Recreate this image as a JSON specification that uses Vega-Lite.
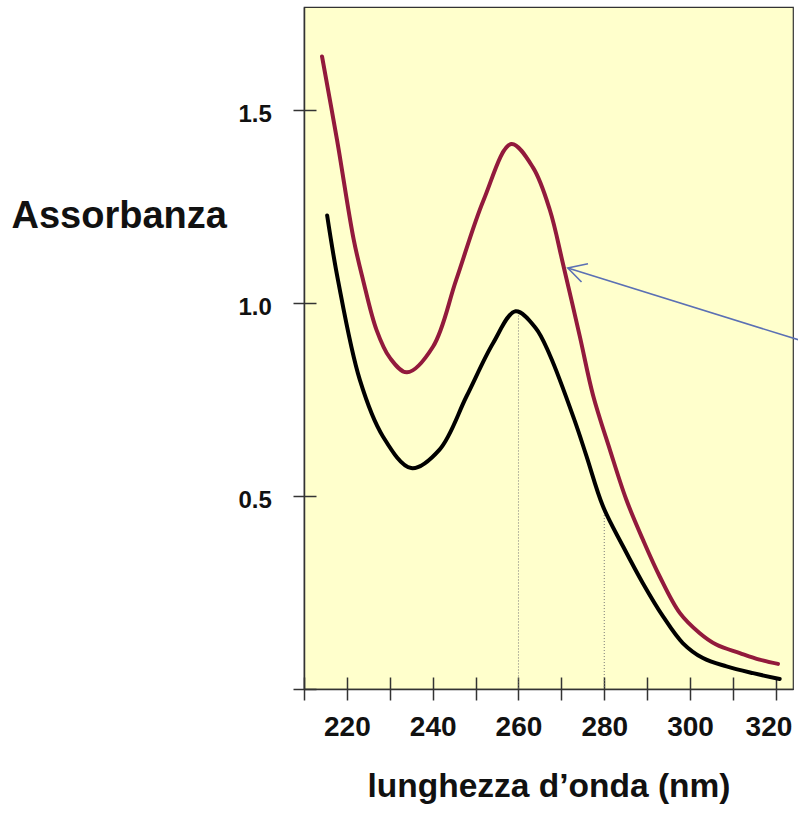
{
  "$schema": "https://vega.github.io/schema/vega-lite/v6.json",
  "width": 489,
  "height": 682,
  "autosize": {"type": "none"},
  "padding": {"left": 304, "top": 7, "right": 5, "bottom": 124},
  "background": "white",
  "config": {
    "view": {"fill": "#FFFFCC", "stroke": "#333333", "strokeWidth": 1.2},
    "axis": {
      "grid": false,
      "domainColor": "#333333",
      "tickColor": "#333333",
      "domainWidth": 1.5,
      "tickWidth": 1.5,
      "labelFont": "Liberation Sans",
      "titleFont": "Liberation Sans",
      "labelFontWeight": "bold",
      "titleFontWeight": "bold",
      "labelColor": "#111111",
      "titleColor": "#111111"
    }
  },
  "datasets": {
    "spettri": [
      {"serie": "rossa", "lambda": 214.2, "A": 1.638},
      {"serie": "rossa", "lambda": 217.7, "A": 1.422},
      {"serie": "rossa", "lambda": 221.6, "A": 1.163},
      {"serie": "rossa", "lambda": 223.75, "A": 1.06},
      {"serie": "rossa", "lambda": 226.9, "A": 0.93},
      {"serie": "rossa", "lambda": 230.0, "A": 0.858},
      {"serie": "rossa", "lambda": 234.0, "A": 0.82},
      {"serie": "rossa", "lambda": 240.1, "A": 0.887},
      {"serie": "rossa", "lambda": 245.5, "A": 1.06},
      {"serie": "rossa", "lambda": 251.9, "A": 1.267},
      {"serie": "rossa", "lambda": 258.3, "A": 1.411},
      {"serie": "rossa", "lambda": 263.4, "A": 1.35},
      {"serie": "rossa", "lambda": 267.3, "A": 1.241},
      {"serie": "rossa", "lambda": 270.4, "A": 1.1},
      {"serie": "rossa", "lambda": 274.3, "A": 0.913},
      {"serie": "rossa", "lambda": 277.4, "A": 0.76},
      {"serie": "rossa", "lambda": 281.3, "A": 0.62},
      {"serie": "rossa", "lambda": 285.15, "A": 0.49},
      {"serie": "rossa", "lambda": 289.0, "A": 0.387},
      {"serie": "rossa", "lambda": 292.9, "A": 0.292},
      {"serie": "rossa", "lambda": 297.6, "A": 0.197},
      {"serie": "rossa", "lambda": 302.2, "A": 0.145},
      {"serie": "rossa", "lambda": 306.1, "A": 0.115},
      {"serie": "rossa", "lambda": 311.6, "A": 0.093},
      {"serie": "rossa", "lambda": 316.2, "A": 0.076},
      {"serie": "rossa", "lambda": 320.5, "A": 0.065},
      {"serie": "nera", "lambda": 215.4, "A": 1.226},
      {"serie": "nera", "lambda": 217.9, "A": 1.06},
      {"serie": "nera", "lambda": 223.0, "A": 0.801},
      {"serie": "nera", "lambda": 228.4, "A": 0.654},
      {"serie": "nera", "lambda": 235.0, "A": 0.572},
      {"serie": "nera", "lambda": 241.6, "A": 0.62},
      {"serie": "nera", "lambda": 247.9, "A": 0.758},
      {"serie": "nera", "lambda": 254.1, "A": 0.896},
      {"serie": "nera", "lambda": 259.3, "A": 0.978},
      {"serie": "nera", "lambda": 264.0, "A": 0.935},
      {"serie": "nera", "lambda": 267.3, "A": 0.865},
      {"serie": "nera", "lambda": 273.1, "A": 0.695},
      {"serie": "nera", "lambda": 275.8, "A": 0.605},
      {"serie": "nera", "lambda": 279.7, "A": 0.473},
      {"serie": "nera", "lambda": 284.4, "A": 0.369},
      {"serie": "nera", "lambda": 289.0, "A": 0.274},
      {"serie": "nera", "lambda": 293.7, "A": 0.188},
      {"serie": "nera", "lambda": 298.3, "A": 0.119},
      {"serie": "nera", "lambda": 303.0, "A": 0.08},
      {"serie": "nera", "lambda": 308.5, "A": 0.0585},
      {"serie": "nera", "lambda": 314.7, "A": 0.041},
      {"serie": "nera", "lambda": 320.9, "A": 0.026}
    ],
    "guide": [
      {"lambda": 260, "A": 0.975},
      {"lambda": 280, "A": 0.466}
    ],
    "freccia": [
      {"parte": "asta", "ordine": 1, "lambda": 271.5, "A": 1.09},
      {"parte": "asta", "ordine": 2, "lambda": 325.6, "A": 0.903},
      {"parte": "punta", "ordine": 1, "lambda": 276.2, "A": 1.101},
      {"parte": "punta", "ordine": 2, "lambda": 271.5, "A": 1.09},
      {"parte": "punta", "ordine": 3, "lambda": 274.7, "A": 1.054}
    ]
  },
  "layer": [
    {
      "data": {"name": "guide"},
      "mark": {"type": "rule", "color": "#777777", "strokeWidth": 1, "strokeDash": [1, 2]},
      "encoding": {
        "x": {
          "field": "lambda",
          "type": "quantitative",
          "axis": {
            "orient": "top",
            "offset": -682,
            "values": [210, 220, 230, 240, 250, 260, 270, 280, 290, 300, 310, 320],
            "tickSize": 12,
            "labels": false,
            "domain": false,
            "title": null
          }
        },
        "y": {
          "field": "A",
          "type": "quantitative",
          "axis": {
            "orient": "right",
            "offset": -489,
            "values": [0, 0.5, 1, 1.5],
            "tickSize": 12,
            "labels": false,
            "domain": false,
            "title": null
          }
        },
        "y2": {"datum": 0}
      }
    },
    {
      "data": {"name": "spettri"},
      "mark": {"type": "line", "interpolate": "catmull-rom", "strokeWidth": 4, "strokeCap": "round"},
      "encoding": {
        "x": {
          "field": "lambda",
          "type": "quantitative",
          "scale": {"domain": [210, 324], "nice": false, "zero": false},
          "axis": {
            "orient": "bottom",
            "values": [210, 220, 230, 240, 250, 260, 270, 280, 290, 300, 310, 320],
            "labelExpr": "datum.value % 20 == 0 && datum.value > 210 ? datum.label : ''",
            "tickSize": 11,
            "labelPadding": 13,
            "labelFontSize": 28,
            "labelFlush": 20,
            "labelFlushOffset": 16,
            "labelOverlap": false,
            "labelBound": false,
            "title": "lunghezza d’onda (nm)",
            "titleFontSize": 33.5,
            "titleBaseline": "alphabetic",
            "titleY": 107
          }
        },
        "y": {
          "field": "A",
          "type": "quantitative",
          "scale": {"domain": [0, 1.766], "nice": false},
          "axis": {
            "orient": "left",
            "values": [0, 0.5, 1, 1.5],
            "labelExpr": "datum.value == 0 ? '' : format(datum.value, '.1f')",
            "tickSize": 11,
            "labelPadding": 21.6,
            "labelFontSize": 24,
            "labelOffset": 5,
            "labelFlush": false,
            "labelOverlap": false,
            "title": "Assorbanza",
            "titleFontSize": 38,
            "titleAngle": 0,
            "titleAlign": "left",
            "titleBaseline": "alphabetic",
            "titleX": -293,
            "titleY": 220
          }
        },
        "color": {
          "field": "serie",
          "type": "nominal",
          "scale": {"domain": ["rossa", "nera"], "range": ["#921a3c", "#000000"]},
          "legend": null
        }
      }
    },
    {
      "data": {"name": "freccia"},
      "mark": {"type": "line", "color": "#5b70b4", "strokeWidth": 1.6},
      "encoding": {
        "x": {"field": "lambda", "type": "quantitative", "axis": null},
        "y": {"field": "A", "type": "quantitative", "axis": null},
        "detail": {"field": "parte"},
        "order": {"field": "ordine"}
      }
    }
  ]
}
